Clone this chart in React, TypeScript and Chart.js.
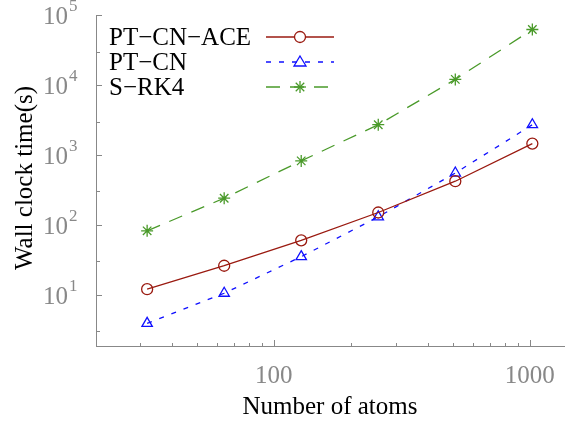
import React, { useEffect, useRef } from "react";
import { Chart, registerables } from "chart.js";
Chart.register(...registerables);

const atoms = [32, 64, 128, 256, 512, 1024];
const ptcnace = [12, 26, 60, 150, 420, 1450];
const ptcn = [3.9, 10.5, 35, 130, 550, 2700];
const srk4 = [82, 240, 820, 2700, 12000, 62000];
const yTicks = [1, 2, 3, 4, 5];
const xTicks = [100, 1000];

const RED = "#9a1a10", BLUE = "#1010ff", GREEN = "#4a9a2a";
const FONT = "'Liberation Serif', 'DejaVu Serif', serif";

const labelsPlugin = {
  id: "custom",
  afterDraw(chart: any) {
    const ctx = chart.ctx;
    const xs = chart.scales.x, ys = chart.scales.y;
    const ca = chart.chartArea;
    ctx.save();
    ctx.strokeStyle = "#888";
    ctx.lineWidth = 1;
    for (let d = 0; d <= 5; d++) {
      for (let m = 1; m < 10; m++) {
        const v = m * Math.pow(10, d);
        if (v < ys.min || v > ys.max) continue;
        const py = Math.round(ys.getPixelForValue(v)) + 0.5;
        const len = m === 1 ? 6 : m === 3 ? 4 : 0;
        if (!len) continue;
        ctx.beginPath(); ctx.moveTo(ca.left, py); ctx.lineTo(ca.left + len, py); ctx.stroke();
      }
    }
    for (let d = 1; d <= 3; d++) {
      for (let m = 1; m < 10; m++) {
        const v = m * Math.pow(10, d);
        if (v < xs.min || v > xs.max) continue;
        const px = Math.round(xs.getPixelForValue(v)) + 0.5;
        const len = m === 1 ? 6 : 3;
        ctx.beginPath(); ctx.moveTo(px, ca.bottom); ctx.lineTo(px, ca.bottom - len); ctx.stroke();
      }
    }
    ctx.fillStyle = "#888";
    ctx.textBaseline = "alphabetic";
    for (const e of yTicks) {
      const py = ys.getPixelForValue(Math.pow(10, e));
      ctx.font = `25px ${FONT}`;
      ctx.textAlign = "right";
      ctx.fillText("10", 68, py + 9);
      ctx.font = `17px ${FONT}`;
      ctx.textAlign = "left";
      ctx.fillText(String(e), 69, py - 4);
    }
    ctx.font = `25px ${FONT}`;
    ctx.textAlign = "center";
    for (const t of xTicks) {
      ctx.fillText(String(t), xs.getPixelForValue(t), ca.bottom + 37);
    }
    ctx.fillStyle = "#000";
    ctx.fillText("Number of atoms", 330, 414);
    ctx.save();
    ctx.translate(32, 178);
    ctx.rotate(-Math.PI / 2);
    ctx.fillText("Wall clock time(s)", 0, 0);
    ctx.restore();
    const items = [
      { t: "PT\u2212CN\u2212ACE", c: RED, dash: [], s: "circle" },
      { t: "PT\u2212CN", c: BLUE, dash: [5, 8], s: "triangle" },
      { t: "S\u2212RK4", c: GREEN, dash: [14, 10], s: "star" },
    ];
    items.forEach((it, i) => {
      const y = 37 + i * 25;
      ctx.fillStyle = "#000";
      ctx.textAlign = "left";
      ctx.font = `25px ${FONT}`;
      ctx.fillText(it.t, 109, y + 8);
      ctx.strokeStyle = it.c;
      ctx.lineWidth = 1.3;
      ctx.setLineDash(it.dash);
      ctx.beginPath(); ctx.moveTo(266, y); ctx.lineTo(334, y); ctx.stroke();
      ctx.setLineDash([]);
      if (it.s === "circle") { ctx.beginPath(); ctx.arc(300, y, 5.5, 0, Math.PI * 2); ctx.fillStyle = "#fff"; ctx.fill(); ctx.stroke(); }
      else if (it.s === "triangle") { ctx.beginPath(); ctx.moveTo(300, y - 6); ctx.lineTo(306, y + 4); ctx.lineTo(294, y + 4); ctx.closePath(); ctx.stroke(); }
      else { for (let k = 0; k < 4; k++) { const a = k * Math.PI / 4; ctx.beginPath(); ctx.moveTo(300 - 6 * Math.cos(a), y - 6 * Math.sin(a)); ctx.lineTo(300 + 6 * Math.cos(a), y + 6 * Math.sin(a)); ctx.stroke(); } }
    });
    ctx.restore();
  },
};

export default function App() {
  const ref = useRef<HTMLCanvasElement>(null);
  useEffect(() => {
    const mk = (label: string, data: number[], color: string, dash: number[], ps: string, r: number) => ({
      label, data: atoms.map((x, i) => ({ x, y: data[i] })), borderColor: color, backgroundColor: "transparent",
      borderWidth: 1.3, borderDash: dash, pointStyle: ps as any, pointRadius: r, pointBorderColor: color,
      pointBorderWidth: 1.3, pointBackgroundColor: "transparent", tension: 0,
    });
    const chart = new Chart(ref.current!, {
      type: "line",
      data: {
        datasets: [
          mk("PT-CN-ACE", ptcnace, RED, [], "circle", 5.5),
          mk("PT-CN", ptcn, BLUE, [5, 8], "triangle", 6),
          mk("S-RK4", srk4, GREEN, [14, 10], "star", 6),
        ],
      },
      options: {
        animation: false, responsive: false,
        layout: { padding: { top: 15, right: 6, left: 0, bottom: 0 } },
        plugins: { legend: { display: false }, tooltip: { enabled: false } },
        scales: {
          x: { type: "logarithmic", min: 20.2, max: 1370, grid: { display: false, drawTicks: false },
            border: { color: "#888" }, ticks: { display: false },
            afterFit: (s: any) => { s.height = 75; } },
          y: { type: "logarithmic", min: 1.85, max: 100000, grid: { display: false, drawTicks: false },
            border: { color: "#888" }, ticks: { display: false },
            afterFit: (s: any) => { s.width = 96; } },
        },
      },
      plugins: [labelsPlugin],
    });
    return () => chart.destroy();
  }, []);
  return <canvas ref={ref} width={572} height={421} style={{ position: "absolute", left: 0, top: 0 }} />;
}
